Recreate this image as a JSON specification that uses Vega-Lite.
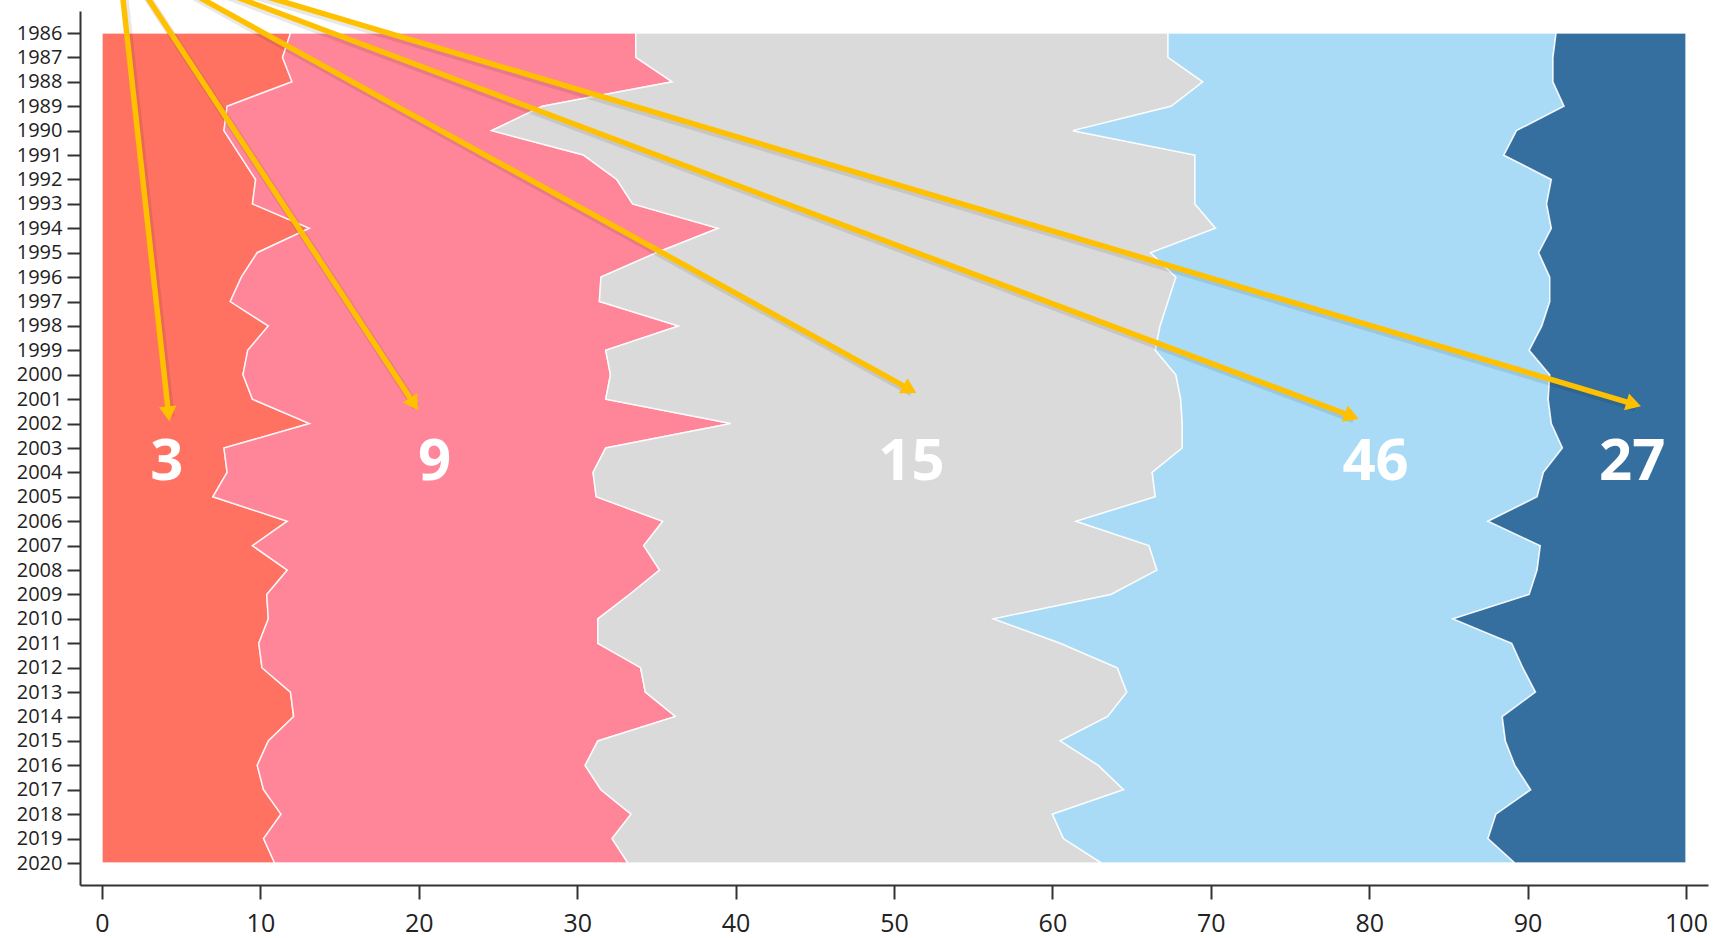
{
  "$schema": "https://vega.github.io/schema/vega-lite/v6.json",
  "autosize": {"type": "none"},
  "padding": {"left": 80, "top": 11, "right": 9, "bottom": 53},
  "width": 1628,
  "height": 874,
  "background": "white",
  "config": {"view": {"stroke": null}},
  "datasets": {
    "shares": [
      {"year": 1986, "c1": 11.9, "c2": 21.8, "c3": 33.6, "c4": 24.5, "c5": 8.2},
      {"year": 1987, "c1": 11.4, "c2": 22.3, "c3": 33.6, "c4": 24.3, "c5": 8.4},
      {"year": 1988, "c1": 12.0, "c2": 24.0, "c3": 33.5, "c4": 22.1, "c5": 8.4},
      {"year": 1989, "c1": 7.9, "c2": 19.9, "c3": 39.7, "c4": 24.8, "c5": 7.7},
      {"year": 1990, "c1": 7.7, "c2": 16.9, "c3": 36.7, "c4": 28.0, "c5": 10.7},
      {"year": 1991, "c1": 8.7, "c2": 21.7, "c3": 38.6, "c4": 19.5, "c5": 11.5},
      {"year": 1992, "c1": 9.7, "c2": 22.8, "c3": 36.5, "c4": 22.5, "c5": 8.5},
      {"year": 1993, "c1": 9.5, "c2": 24.0, "c3": 35.5, "c4": 22.2, "c5": 8.8},
      {"year": 1994, "c1": 13.1, "c2": 25.8, "c3": 31.4, "c4": 21.2, "c5": 8.5},
      {"year": 1995, "c1": 9.8, "c2": 25.2, "c3": 31.2, "c4": 24.5, "c5": 9.3},
      {"year": 1996, "c1": 8.8, "c2": 22.7, "c3": 36.3, "c4": 23.6, "c5": 8.6},
      {"year": 1997, "c1": 8.1, "c2": 23.3, "c3": 35.9, "c4": 24.1, "c5": 8.6},
      {"year": 1998, "c1": 10.5, "c2": 25.9, "c3": 30.4, "c4": 24.1, "c5": 9.1},
      {"year": 1999, "c1": 9.2, "c2": 22.6, "c3": 34.7, "c4": 23.6, "c5": 9.9},
      {"year": 2000, "c1": 8.9, "c2": 23.2, "c3": 35.7, "c4": 23.6, "c5": 8.6},
      {"year": 2001, "c1": 9.5, "c2": 22.3, "c3": 36.3, "c4": 23.2, "c5": 8.7},
      {"year": 2002, "c1": 13.1, "c2": 26.6, "c3": 28.5, "c4": 23.3, "c5": 8.5},
      {"year": 2003, "c1": 7.7, "c2": 24.1, "c3": 36.4, "c4": 24.0, "c5": 7.8},
      {"year": 2004, "c1": 7.9, "c2": 23.1, "c3": 35.3, "c4": 24.7, "c5": 9.0},
      {"year": 2005, "c1": 7.0, "c2": 24.2, "c3": 35.3, "c4": 24.1, "c5": 9.4},
      {"year": 2006, "c1": 11.7, "c2": 23.7, "c3": 26.1, "c4": 26.0, "c5": 12.5},
      {"year": 2007, "c1": 9.5, "c2": 24.7, "c3": 31.9, "c4": 24.7, "c5": 9.2},
      {"year": 2008, "c1": 11.7, "c2": 23.5, "c3": 31.4, "c4": 24.0, "c5": 9.4},
      {"year": 2009, "c1": 10.4, "c2": 22.9, "c3": 30.4, "c4": 26.4, "c5": 9.9},
      {"year": 2010, "c1": 10.5, "c2": 20.8, "c3": 25.0, "c4": 29.0, "c5": 14.7},
      {"year": 2011, "c1": 9.9, "c2": 21.4, "c3": 29.2, "c4": 28.5, "c5": 11.0},
      {"year": 2012, "c1": 10.1, "c2": 23.9, "c3": 30.1, "c4": 25.6, "c5": 10.3},
      {"year": 2013, "c1": 11.9, "c2": 22.4, "c3": 30.4, "c4": 25.8, "c5": 9.5},
      {"year": 2014, "c1": 12.1, "c2": 24.1, "c3": 27.3, "c4": 24.9, "c5": 11.6},
      {"year": 2015, "c1": 10.5, "c2": 20.8, "c3": 29.2, "c4": 28.1, "c5": 11.4},
      {"year": 2016, "c1": 9.8, "c2": 20.7, "c3": 32.4, "c4": 26.3, "c5": 10.8},
      {"year": 2017, "c1": 10.2, "c2": 21.3, "c3": 33.0, "c4": 25.7, "c5": 9.8},
      {"year": 2018, "c1": 11.3, "c2": 22.1, "c3": 26.6, "c4": 28.0, "c5": 12.0},
      {"year": 2019, "c1": 10.2, "c2": 22.0, "c3": 28.5, "c4": 26.8, "c5": 12.5},
      {"year": 2020, "c1": 10.9, "c2": 22.3, "c3": 29.9, "c4": 26.1, "c5": 10.8}
    ],
    "notes": [
      {"label": "3", "x0": 1.0, "y0": 1982.7, "x1": 4.2, "y1": 2001.6, "lx": 4.1, "ly": 2003.6},
      {"label": "9", "x0": 1.0, "y0": 1982.7, "x1": 19.7, "y1": 2001.2, "lx": 21.0, "ly": 2003.6},
      {"label": "15", "x0": 1.0, "y0": 1982.7, "x1": 51.0, "y1": 2000.6, "lx": 51.1, "ly": 2003.6},
      {"label": "46", "x0": 1.0, "y0": 1982.7, "x1": 78.9, "y1": 2001.7, "lx": 80.4, "ly": 2003.6},
      {"label": "27", "x0": 1.0, "y0": 1982.7, "x1": 96.7, "y1": 2001.2, "lx": 96.6, "ly": 2003.6}
    ]
  },
  "layer": [
    {
      "data": {"name": "shares"},
      "transform": [{"fold": ["c1", "c2", "c3", "c4", "c5"], "as": ["cat", "value"]}],
      "mark": {"type": "area", "orient": "horizontal", "stroke": "white", "strokeWidth": 1.5, "strokeOpacity": 0.85, "strokeJoin": "miter"},
      "encoding": {
        "y": {
          "field": "year", "type": "quantitative",
          "scale": {"domain": [1986, 2020], "reverse": true, "nice": false, "zero": false, "padding": 22},
          "axis": {
            "title": null, "format": "d", "grid": false, "tickCount": 40,
            "values": [1986,1987,1988,1989,1990,1991,1992,1993,1994,1995,1996,1997,1998,1999,2000,2001,2002,2003,2004,2005,2006,2007,2008,2009,2010,2011,2012,2013,2014,2015,2016,2017,2018,2019,2020],
            "labelOverlap": false, "labelFlush": false,
            "labelFont": "Open Sans", "labelFontSize": 20, "labelColor": "#222",
            "labelPadding": 5, "tickSize": 13, "tickWidth": 2, "tickColor": "#333",
            "domainColor": "#333", "domainWidth": 2
          }
        },
        "x": {
          "field": "value", "type": "quantitative", "stack": "zero",
          "scale": {"domain": [0, 100], "nice": false, "zero": false, "padding": 22},
          "axis": {
            "title": null, "grid": false, "tickCount": 12, "values": [0,10,20,30,40,50,60,70,80,90,100],
            "labelFlush": false, "labelOverlap": false,
            "labelFont": "Open Sans", "labelFontSize": 25, "labelColor": "#222",
            "labelPadding": 12, "tickSize": 14, "tickWidth": 2, "tickColor": "#333",
            "domainColor": "#333", "domainWidth": 2
          }
        },
        "color": {
          "field": "cat", "type": "nominal",
          "scale": {"domain": ["c1", "c2", "c3", "c4", "c5"], "range": ["#FF7262", "#FF8599", "#DADADA", "#A9DBF7", "#346FA0"]},
          "legend": null
        }
      }
    },
    {
      "data": {"name": "notes"},
      "mark": {"type": "rule", "color": "#000000", "opacity": 0.09, "strokeWidth": 8, "xOffset": 2, "yOffset": 3, "x2Offset": 2, "y2Offset": 3},
      "encoding": {
        "x": {"field": "x0", "type": "quantitative"},
        "y": {"field": "y0", "type": "quantitative"},
        "x2": {"field": "x1"},
        "y2": {"field": "y1"}
      }
    },
    {
      "data": {"name": "notes"},
      "mark": {"type": "rule", "color": "#FFC000", "strokeWidth": 5.5},
      "encoding": {
        "x": {"field": "x0", "type": "quantitative"},
        "y": {"field": "y0", "type": "quantitative"},
        "x2": {"field": "x1"},
        "y2": {"field": "y1"}
      }
    },
    {
      "data": {"name": "notes"},
      "transform": [{"calculate": "atan2((datum.y1 - datum.y0) * 24.43, (datum.x1 - datum.x0) * 15.84) * 180 / PI", "as": "heading"}],
      "mark": {"type": "point", "shape": "triangle-right", "filled": true, "color": "#FFC000", "opacity": 1, "size": 300},
      "encoding": {
        "x": {"field": "x1", "type": "quantitative"},
        "y": {"field": "y1", "type": "quantitative"},
        "angle": {"field": "heading", "type": "quantitative", "scale": null}
      }
    },
    {
      "data": {"name": "notes"},
      "mark": {"type": "text", "color": "white", "font": "Open Sans", "fontSize": 58, "fontWeight": "bold", "align": "center", "baseline": "middle"},
      "encoding": {
        "x": {"field": "lx", "type": "quantitative"},
        "y": {"field": "ly", "type": "quantitative"},
        "text": {"field": "label", "type": "nominal"}
      }
    }
  ]
}
